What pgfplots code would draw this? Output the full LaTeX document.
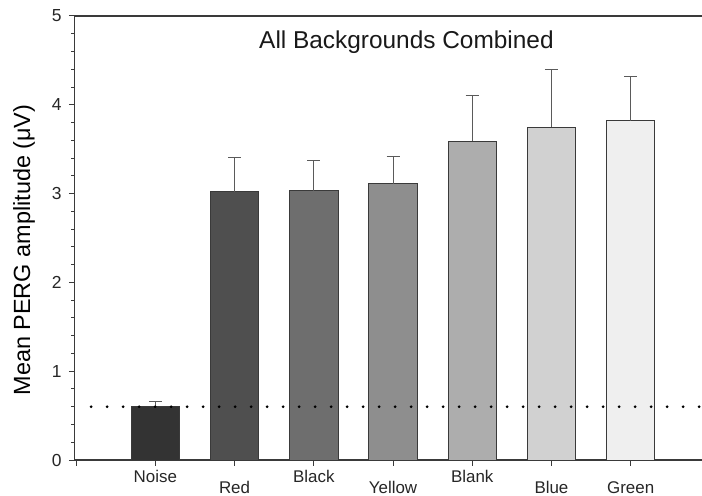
\documentclass[border=0pt]{standalone}
\usepackage{fontspec}
\setmainfont{Liberation Sans}
\usepackage{pgfplots}
\pgfplotsset{compat=1.18}
\definecolor{axgray}{HTML}{3A3A3A}
\definecolor{errgray}{HTML}{5A5A5A}
\definecolor{cNoise}{HTML}{333333}
\definecolor{cRed}{HTML}{4F4F4F}
\definecolor{cBlack}{HTML}{6E6E6E}
\definecolor{cYellow}{HTML}{8E8E8E}
\definecolor{cBlank}{HTML}{ADADAD}
\definecolor{cBlue}{HTML}{D1D1D1}
\definecolor{cGreen}{HTML}{EFEFEF}
\pgfplotsset{
  mybar/.style={ybar, bar shift=0pt, bar width=0.612, draw=axgray, line width=0.9bp, fill=#1,
    error bars/.cd, y dir=plus, y explicit,
    error bar style={draw=errgray, line width=1bp},
    error mark options={rotate=90, draw=errgray, line width=1bp, mark size=6.5bp}},
}
\begin{document}
\begin{tikzpicture}
\useasboundingbox (0,0) rectangle (702bp,496bp);
\begin{axis}[
  at={(74.5bp,36bp)}, anchor=south west,
  scale only axis, width=627.5bp, height=444bp,
  xmin=-1.02, xmax=6.9, ymin=0, ymax=5,
  axis x line*=bottom, axis y line*=left,
  axis line style={draw=axgray, line width=1.4bp},
  xtick={-1,0,1,2,3,4,5,6},
  xticklabels={{},Noise,\raisebox{-11bp}{Red},Black,\raisebox{-11bp}{Yellow},Blank,\raisebox{-11bp}{Blue},\raisebox{-11bp}{Green}},
  ytick={0,1,2,3,4,5},
  minor y tick num=4,
  tick align=outside,
  major tick length=5.5bp, minor tick length=3bp,
  tick style={draw=axgray, line width=1bp},
  /pgf/number format/assume math mode=true,
  yticklabel style={font=\fontsize{17.5}{19}\selectfont, text=black!85, xshift=-4bp},
  xticklabel style={font=\fontsize{17}{19}\selectfont, text=black!85, text height=12.5bp, text depth=3.5bp, yshift=-0.5bp},
  ylabel={Mean PERG amplitude (μV)},
  ylabel style={font=\fontsize{23.5}{26}\selectfont, at={(axis description cs:-0.0805,0.473)}, anchor=center},
  clip=false,
]
\addplot[mybar=cNoise] coordinates {(0,0.60) +- (0,0.06)};
\addplot[mybar=cRed] coordinates {(1,3.02) +- (0,0.39)};
\addplot[mybar=cBlack] coordinates {(2,3.03) +- (0,0.34)};
\addplot[mybar=cYellow] coordinates {(3,3.11) +- (0,0.31)};
\addplot[mybar=cBlank] coordinates {(4,3.59) +- (0,0.52)};
\addplot[mybar=cBlue] coordinates {(5,3.75) +- (0,0.65)};
\addplot[mybar=cGreen] coordinates {(6,3.82) +- (0,0.50)};
\addplot[black, line width=3bp, line cap=round, dash pattern=on 0bp off 16bp] coordinates {(-0.81,0.6) (6.9,0.6)};
\draw[axgray, line width=1.4bp] (rel axis cs:0,1) -- (rel axis cs:1,1);
\node[font=\fontsize{24.5}{28}\selectfont, anchor=base, text=black!90] at (rel axis cs:0.529,0.927) {All Backgrounds Combined};
\end{axis}
\end{tikzpicture}
\end{document}
